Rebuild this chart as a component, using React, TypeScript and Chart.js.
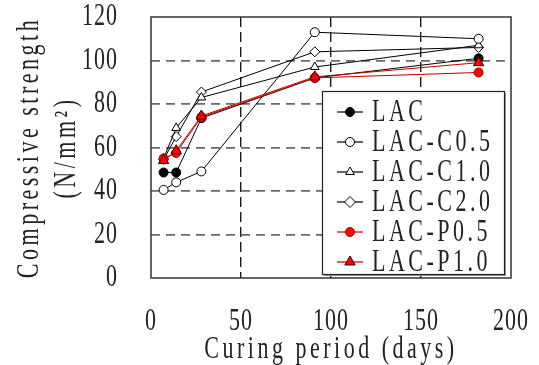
import React, { useEffect, useRef } from 'react';
import { Chart, registerables } from 'chart.js';

Chart.register(...registerables);

// ---- data ----
const days = [7, 14, 28, 91, 182];
const seriesLabels = ['LAC', 'LAC-C0.5', 'LAC-C1.0', 'LAC-C2.0', 'LAC-P0.5', 'LAC-P1.0'];
const lacValues = [48.5, 48.5, 73.5, 92, 101];
const lacC05Values = [40.5, 44, 49, 113, 110];
const lacC10Values = [55, 69, 83, 97, 107];
const lacC20Values = [54.5, 65, 85.5, 104, 106];
const lacP05Values = [55, 57.5, 74, 92, 94.5];
const lacP10Values = [54, 58.5, 74.5, 92.5, 99];
const xTickValues = [0, 50, 100, 150, 200];
const yTickValues = [0, 20, 40, 60, 80, 100, 120];
const xTitle = 'Curing period (days)';
const yTitle = ['Compressive strength', '(N/mm²)'];

const FONT = '"Liberation Serif", "DejaVu Serif", serif';
const TEXT_SCALE_Y = 1.4;

type Style = {
  line: string;
  fill: string;
  stroke: string;
  shape: 'circle' | 'triangle' | 'rectRot';
  r: number;
  order: number;
};

const styles: Style[] = [
  { line: '#000', fill: '#000', stroke: '#000', shape: 'circle', r: 4.5, order: 2 },
  { line: '#000', fill: '#fff', stroke: '#000', shape: 'circle', r: 4.5, order: 2 },
  { line: '#000', fill: '#fff', stroke: '#000', shape: 'triangle', r: 5, order: 2 },
  { line: '#000', fill: '#fff', stroke: '#000', shape: 'rectRot', r: 5, order: 2 },
  { line: '#c00000', fill: '#ff0000', stroke: '#a00000', shape: 'circle', r: 4.5, order: 1 },
  { line: '#c00000', fill: '#ff0000', stroke: '#400000', shape: 'triangle', r: 6, order: 0 },
];

const allValues = [lacValues, lacC05Values, lacC10Values, lacC20Values, lacP05Values, lacP10Values];

function drawMarker(ctx: CanvasRenderingContext2D, shape: string, x: number, y: number, r: number) {
  ctx.beginPath();
  if (shape === 'circle') {
    ctx.arc(x, y, r, 0, Math.PI * 2);
  } else if (shape === 'triangle') {
    let rad = 0;
    ctx.moveTo(x + Math.sin(rad) * r, y - Math.cos(rad) * r);
    rad += (2 * Math.PI) / 3;
    ctx.lineTo(x + Math.sin(rad) * r, y - Math.cos(rad) * r);
    rad += (2 * Math.PI) / 3;
    ctx.lineTo(x + Math.sin(rad) * r, y - Math.cos(rad) * r);
    ctx.closePath();
  } else {
    const d = r * 1.1;
    ctx.moveTo(x, y - d);
    ctx.lineTo(x + d, y);
    ctx.lineTo(x, y + d);
    ctx.lineTo(x - d, y);
    ctx.closePath();
  }
  ctx.fill();
  ctx.stroke();
}

// tall, spaced text like the original figure
const textPlugin = {
  id: 'tallText',
  beforeDraw(chart: any) {
    const ctx = chart.ctx as any;
    if (!ctx.__tall) {
      const orig = ctx.fillText.bind(ctx);
      ctx.fillText = function (text: string, x: number, y: number, maxWidth?: number) {
        this.save();
        const s = String(text);
        this.letterSpacing = /^[0-9]+$/.test(s) ? '1px' : '3.5px';
        this.translate(x, y);
        this.scale(1, TEXT_SCALE_Y);
        if (maxWidth === undefined) orig(s, 0, 0);
        else orig(s, 0, 0, maxWidth + 80);
        this.restore();
      };
      ctx.__tall = true;
    }
    ctx.save();
    ctx.fillStyle = '#fff';
    ctx.fillRect(0, 0, chart.width, chart.height);
    ctx.restore();
  },
};

const framePlugin = {
  id: 'frame',
  afterDatasetsDraw(chart: any) {
    const { ctx, chartArea } = chart;
    ctx.save();
    ctx.strokeStyle = '#333';
    ctx.lineWidth = 1.5;
    ctx.strokeRect(chartArea.left, chartArea.top, chartArea.right - chartArea.left, chartArea.bottom - chartArea.top);
    ctx.restore();
  },
};

const legendPlugin = {
  id: 'boxLegend',
  afterDraw(chart: any) {
    const ctx = chart.ctx as CanvasRenderingContext2D;
    const bx = 322, by = 91, bw = 182, bh = 183;
    ctx.save();
    ctx.fillStyle = '#999';
    ctx.fillRect(bx + 2, by + 2, bw, bh);
    ctx.fillStyle = '#fff';
    ctx.fillRect(bx, by, bw, bh);
    ctx.strokeStyle = '#222';
    ctx.lineWidth = 1.2;
    ctx.strokeRect(bx + 0.5, by + 0.5, bw, bh);
    chart.data.datasets.forEach((ds: any, i: number) => {
      const st = styles[i];
      const cy = by + 21 + i * 30;
      ctx.strokeStyle = st.line;
      ctx.lineWidth = 1.2;
      ctx.beginPath();
      ctx.moveTo(337, cy);
      ctx.lineTo(363, cy);
      ctx.stroke();
      ctx.fillStyle = st.fill;
      ctx.strokeStyle = st.stroke;
      ctx.lineWidth = 1;
      drawMarker(ctx, st.shape, 350, cy, st.r);
      ctx.fillStyle = '#222';
      ctx.font = `22px ${FONT}`;
      ctx.textAlign = 'left';
      ctx.textBaseline = 'middle';
      ctx.fillText(ds.label, 372, cy + 1);
    });
    ctx.restore();
  },
};

export default function App() {
  const ref = useRef<HTMLCanvasElement | null>(null);

  useEffect(() => {
    if (!ref.current) return;
    const datasets = allValues.map((vals, i) => {
      const st = styles[i];
      return {
        label: seriesLabels[i],
        data: days.map((d, j) => ({ x: d, y: vals[j] })),
        borderColor: st.line,
        borderWidth: 1,
        pointStyle: st.shape,
        pointRadius: st.r,
        pointBackgroundColor: st.fill,
        pointBorderColor: st.stroke,
        pointBorderWidth: 1,
        showLine: true,
        fill: false,
        tension: 0,
        order: st.order,
      };
    });

    const chart = new Chart(ref.current, {
      type: 'line',
      data: { datasets },
      plugins: [textPlugin, framePlugin, legendPlugin],
      options: {
        animation: false,
        responsive: true,
        maintainAspectRatio: false,
        layout: { padding: { left: 0, top: 17, right: 28, bottom: 0 } },
        plugins: { legend: { display: false }, tooltip: { enabled: false } },
        scales: {
          x: {
            type: 'linear',
            min: 0,
            max: 200,
            afterBuildTicks: (s: any) => {
              s.ticks = xTickValues.map((v) => ({ value: v }));
            },
            afterFit: (s: any) => {
              s.height = 87;
              s.paddingLeft = 0;
              s.paddingRight = 0;
            },
            ticks: { color: '#222', font: { family: FONT, size: 22 }, padding: 31, maxRotation: 0 },
            grid: {
              drawTicks: false,
              color: (c: any) => (c.tick && (c.tick.value === 0 || c.tick.value === 200) ? 'rgba(0,0,0,0)' : '#1a1a1a'),
              lineWidth: 1.4,
            },
            border: { display: false, dash: [10, 5] },
            title: {
              display: true,
              text: xTitle,
              color: '#222',
              font: { family: FONT, size: 22, lineHeight: 1.2 },
              padding: { top: 0, bottom: 2 },
            },
          },
          y: {
            type: 'linear',
            min: 0,
            max: 120,
            afterBuildTicks: (s: any) => {
              s.ticks = yTickValues.map((v) => ({ value: v }));
            },
            afterFit: (s: any) => {
              s.width = 151;
              s.paddingTop = 0;
              s.paddingBottom = 0;
            },
            ticks: { color: '#222', font: { family: FONT, size: 22 }, padding: 33 },
            grid: {
              drawTicks: false,
              color: (c: any) => (c.tick && (c.tick.value === 0 || c.tick.value === 120) ? 'rgba(0,0,0,0)' : '#6a6a6a'),
              lineWidth: 1.8,
            },
            border: { display: false, dash: [9, 6] },
            title: {
              display: true,
              text: yTitle,
              color: '#222',
              font: { family: FONT, size: 22, lineHeight: 1.68 },
              padding: { top: 11.5, bottom: 0 },
            },
          },
        },
      } as any,
    });
    return () => chart.destroy();
  }, []);

  return (
    <div style={{ position: 'fixed', left: 0, top: 0, width: 539, height: 365, background: '#fff' }}>
      <canvas ref={ref} />
    </div>
  );
}
